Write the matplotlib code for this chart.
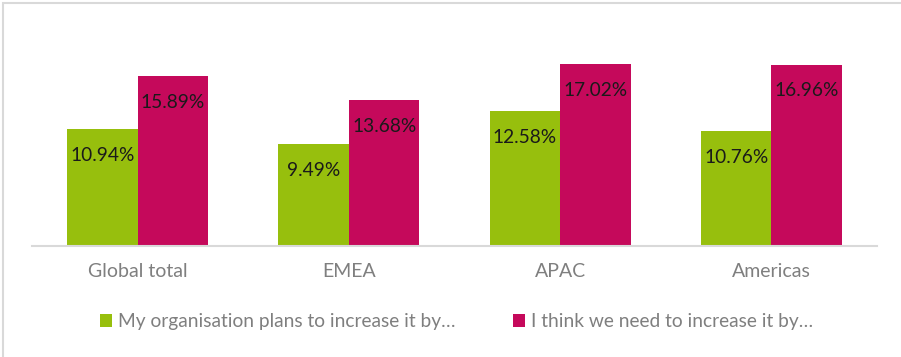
import matplotlib
matplotlib.use("Agg")
import matplotlib.pyplot as plt
from matplotlib.patches import Rectangle
import numpy as np

categories = ["Global total", "EMEA", "APAC", "Americas"]
plans = [10.94, 9.49, 12.58, 10.76]
needs = [15.89, 13.68, 17.02, 16.96]
series_names = ["My organisation plans to increase it by\u2026",
                "I think we need to increase it by\u2026"]

GREEN = "#97BF0D"
MAGENTA = "#C5095B"
TEXT_GRAY = "#7F7F7F"

plt.rcParams["font.family"] = ["Lato", "DejaVu Sans"]

W, H = 901, 357
fig = plt.figure(figsize=(W / 100, H / 100), dpi=100)

# outer chart frame
fig.patches.append(Rectangle((3 / W, -0.1), 1.2, (H - 3) / H + 0.1,
                             transform=fig.transFigure, fill=False,
                             edgecolor="#D9D9D9", linewidth=1.5))

ax = fig.add_axes([32 / W, (H - 246) / H, 845 / W, 214 / H])
x = np.arange(len(categories))
bw = 1 / 3
b1 = ax.bar(x - bw / 2, plans, bw, color=GREEN, label=series_names[0])
b2 = ax.bar(x + bw / 2, needs, bw, color=MAGENTA, label=series_names[1])

ax.set_xlim(-0.5, len(categories) - 0.5)
ax.set_ylim(0, 20)

for bars, vals in ((b1, plans), (b2, needs)):
    for rect, v in zip(bars, vals):
        ax.annotate(f"{v:.2f}%", (rect.get_x() + rect.get_width() / 2, v),
                    xytext=(0, -19), textcoords="offset points",
                    ha="center", va="center", fontsize=13.8, color="#1a1a1a")

for s in ("top", "right", "left"):
    ax.spines[s].set_visible(False)
ax.spines["bottom"].set_color("#D9D9D9")
ax.spines["bottom"].set_linewidth(1.5)
ax.set_yticks([])
ax.set_xticks(x)
ax.set_xticklabels(categories, fontsize=14, color=TEXT_GRAY)
ax.tick_params(axis="x", length=0, pad=12)

leg = fig.legend(handles=[b1, b2], labels=series_names, loc="center",
                 bbox_to_anchor=(0.5 + 6 / W, 1 - 322 / H), ncol=2, frameon=False,
                 fontsize=13.8, handlelength=0.65, handleheight=0.65,
                 handletextpad=0.3, columnspacing=3.0)
for t in leg.get_texts():
    t.set_color(TEXT_GRAY)

fig.savefig("out.png", dpi=100)
